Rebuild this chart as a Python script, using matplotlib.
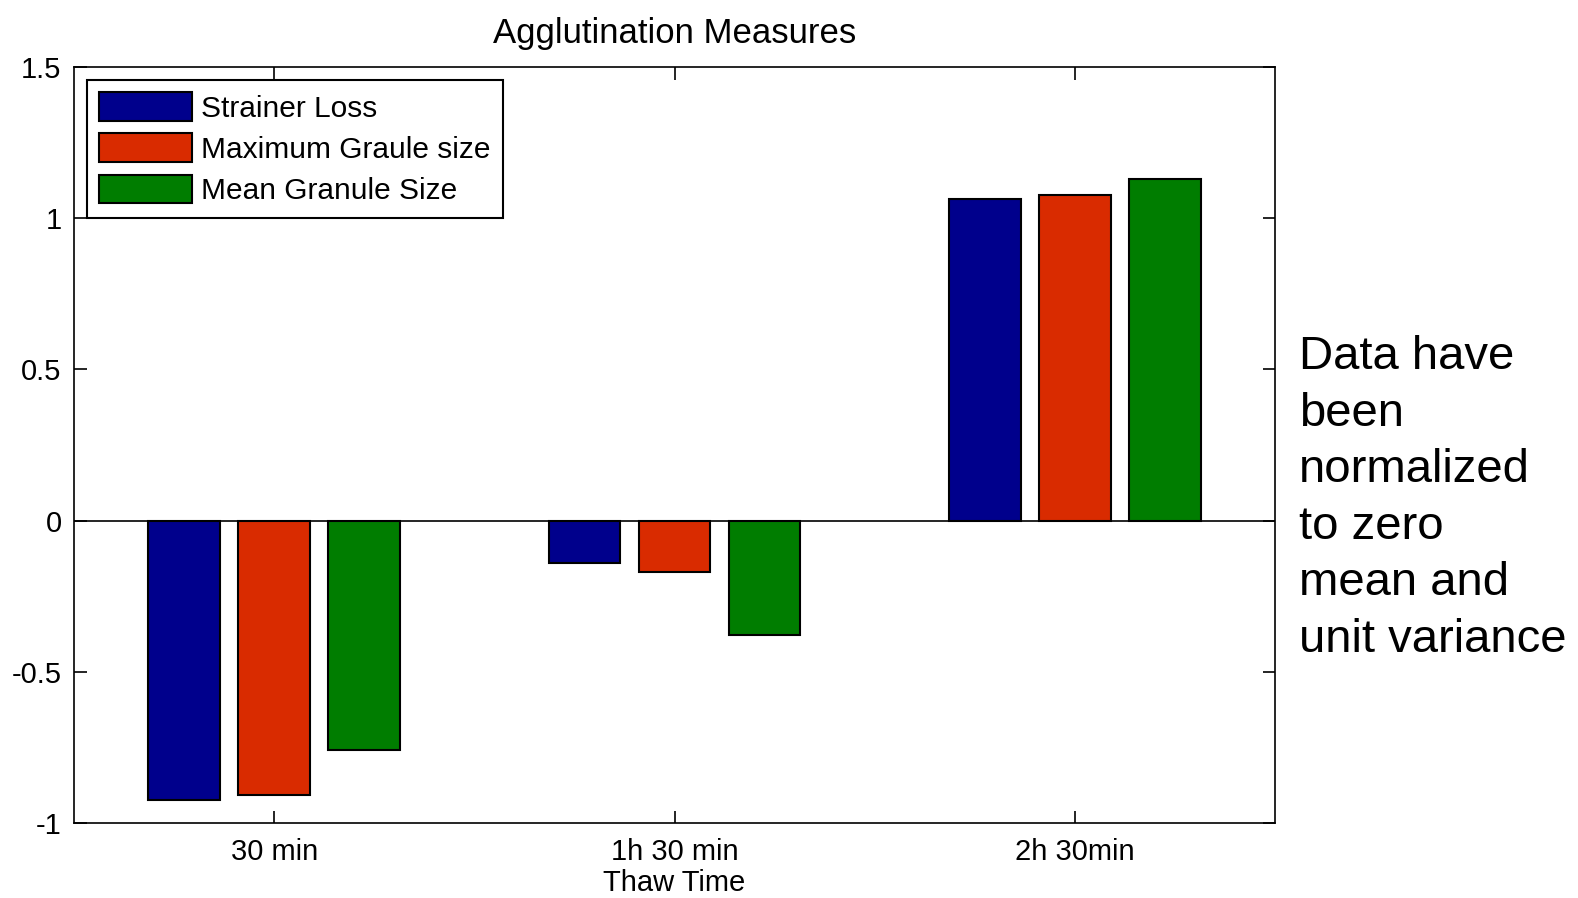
import numpy as np
import matplotlib
matplotlib.use('Agg')
from matplotlib import pyplot as plt

plt.rcParams['font.family'] = ['Liberation Sans', 'DejaVu Sans']

# data
groups = ['30 min', '1h 30 min', '2h 30min']
series = ['Strainer Loss', 'Maximum Graule size', 'Mean Granule Size']
strainer_loss = [-0.924, -0.139, 1.063]
max_granule = [-0.907, -0.169, 1.076]
mean_granule = [-0.758, -0.378, 1.129]
colors = ['#00008C', '#D92B00', '#007D00']

fig = plt.figure(figsize=(15.78, 8.98), dpi=100)
ax = fig.add_axes([0.0469, 0.0835, 0.7611, 0.8419])

x = np.arange(1, len(groups) + 1)
step = 0.225
width = 0.179
for i, (vals, name) in enumerate(zip([strainer_loss, max_granule, mean_granule], series)):
    ax.bar(x + (i - 1) * step, vals, width, color=colors[i], edgecolor='black',
           linewidth=1.5, label=name, zorder=2)

ax.axhline(0, color='black', linewidth=1.2, zorder=3)

ax.set_xlim(0.5, 3.5)
ax.set_ylim(-1, 1.5)
ax.set_xticks(x)
ax.set_xticklabels(groups)
ax.set_yticks([-1, -0.5, 0, 0.5, 1, 1.5])
ax.set_yticklabels(['-1', '-0.5', '0', '0.5', '1', '1.5'])
ax.tick_params(direction='in', length=9, width=1.2, top=True, right=True, labelsize=21)
ax.tick_params(axis='x', pad=11)
ax.tick_params(axis='y', pad=9)
for s in ax.spines.values():
    s.set_linewidth(1.2)

ax.set_title('Agglutination Measures', fontsize=25, pad=17)
ax.set_xlabel('Thaw Time', fontsize=21, labelpad=2)

leg = ax.legend(loc='upper left', fontsize=21.5, fancybox=False, framealpha=1,
                edgecolor='black', handlelength=3.1, handleheight=1.1,
                handletextpad=0.3, labelspacing=0.36, borderpad=0.42,
                borderaxespad=0.42)
leg.get_frame().set_linewidth(1.5)

fig.text(0.823, 1 - 652 / 898, 'Data have\nbeen\nnormalized\nto zero\nmean and\nunit variance',
         fontsize=34, va='baseline', ha='left', linespacing=1.37)

fig.savefig('out.png', dpi=100)
